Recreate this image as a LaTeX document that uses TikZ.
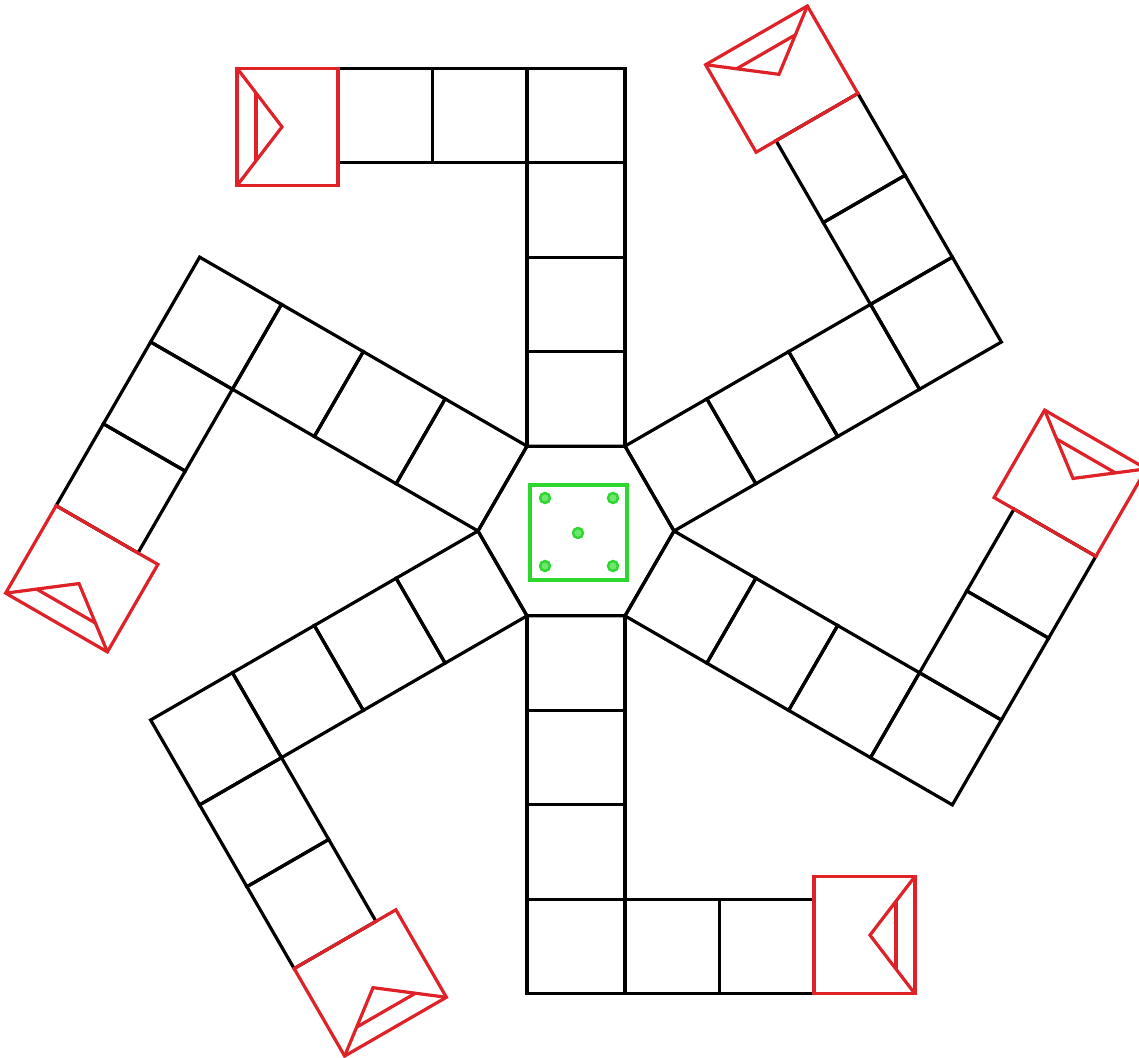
\documentclass[tikz,border=0pt]{standalone}
\usepackage{tikz}
\definecolor{redc}{RGB}{222,34,40}
\definecolor{greenc}{RGB}{45,215,45}
\definecolor{greenf}{RGB}{110,230,110}
\begin{document}
\begin{tikzpicture}[x=1pt,y=1pt,
  cell/.style={draw=black,line width=3.2pt,line join=miter},
  goal/.style={draw=redc,line width=3.2pt,line join=miter},
  dice/.style={draw=greenc,line width=3.6pt},
  pip/.style={draw=greenc,fill=greenf,line width=2.4pt}]
\def\W{98}
\def\H{84.87}
\def\S{94.5}
\def\R{101}
\def\E{23}
\clip (-576,-526) rectangle (563,531);
\fill[white] (-576,-526) rectangle (563,531);
% central hexagon
\draw[cell] (0:\W) -- (60:\W) -- (120:\W) -- (180:\W) -- (240:\W) -- (300:\W) -- cycle;
% black cells of the six arms
\foreach \rot in {0,60,120,180,240,300}{
  \begin{scope}[rotate=\rot]
    \foreach \i in {0,1,2,3}{
      \draw[cell] ({-\W/2},{\H+\i*\S}) rectangle ({\W/2},{\H+(\i+1)*\S});
    }
    \foreach \j in {0,1}{
      \draw[cell] ({-\W/2-(\j+1)*\S},{\H+3*\S}) rectangle ({-\W/2-\j*\S},{\H+4*\S});
    }
  \end{scope}
}
% red goal cells
\pgfmathsetmacro{\Xo}{-\W/2-2*\S-\R}
\pgfmathsetmacro{\Xi}{-\W/2-2*\S}
\pgfmathsetmacro{\Ya}{\H+3*\S-\E}
\pgfmathsetmacro{\Yb}{\H+4*\S}
\pgfmathsetmacro{\Ym}{(\Ya+\Yb)/2}
\pgfmathsetmacro{\Xt}{\Xo+45}
\pgfmathsetmacro{\Xl}{\Xo+19}
\pgfmathsetmacro{\Yla}{\Ya+(19/45)*(\Ym-\Ya)}
\pgfmathsetmacro{\Ylb}{\Yb-(19/45)*(\Yb-\Ym)}
\foreach \rot in {0,60,120,180,240,300}{
  \begin{scope}[rotate=\rot]
    \draw[goal] (\Xo,\Ya) rectangle (\Xi,\Yb);
    \draw[goal] (\Xo,\Ya) -- (\Xt,\Ym) -- (\Xo,\Yb);
    \draw[goal] (\Xl,\Yla) -- (\Xl,\Ylb);
  \end{scope}
}
% green die
\draw[dice] (-46,-49) rectangle (51,46);
\foreach \p in {(-31,33),(37,33),(2,-2),(-31,-35),(37,-35)}{
  \draw[pip] \p circle (5);
}
\end{tikzpicture}
\end{document}
